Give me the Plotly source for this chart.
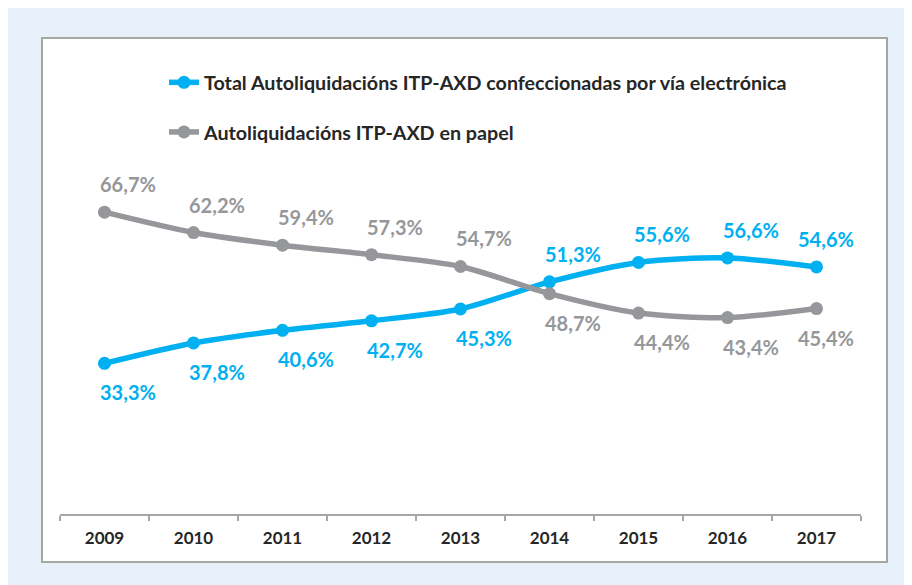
import plotly.graph_objects as go

years = ["2009", "2010", "2011", "2012", "2013", "2014", "2015", "2016", "2017"]
electronic = [33.3, 37.8, 40.6, 42.7, 45.3, 51.3, 55.6, 56.6, 54.6]
paper = [66.7, 62.2, 59.4, 57.3, 54.7, 48.7, 44.4, 43.4, 45.4]
name_electronic = "Total Autoliquidacións ITP-AXD confeccionadas por vía electrónica"
name_paper = "Autoliquidacións ITP-AXD en papel"
# label placement: True = above the point
electronic_above = [False, False, False, False, False, True, True, True, True]
paper_above = [True, True, True, True, True, False, False, False, False]

BLUE = "#00b0f0"
GRAY = "#96979a"
FONT = "Lato"

fig = go.Figure()
fig.add_trace(go.Scatter(
    x=years, y=electronic, name=name_electronic, legendgroup="a",
    mode="lines+markers", line=dict(color=BLUE, width=5.5, shape="spline", smoothing=0.8),
    marker=dict(color=BLUE, size=13), hoverinfo="skip"))
fig.add_trace(go.Scatter(
    x=years, y=paper, name=name_paper, legendgroup="b",
    mode="lines+markers", line=dict(color=GRAY, width=5.5, shape="spline", smoothing=0.8),
    marker=dict(color=GRAY, size=13), hoverinfo="skip"))

annotations = []
for vals, above, col in ((electronic, electronic_above, BLUE), (paper, paper_above, GRAY)):
    for i, (v, a) in enumerate(zip(vals, above)):
        annotations.append(dict(
            x=i, y=v, xref="x", yref="y", showarrow=False,
            text="<b>" + f"{v:.1f}%".replace(".", ",") + "</b>",
            font=dict(family=FONT, size=20, color=col),
            xshift=23 if i < len(vals) - 1 else 9,
            yshift=28 if a else -29))

# page is offset by the default 8px body margin
OFF = 8
L, R, T, B = 60 - OFF, 59, 152 - OFF, 79
W, H = 912, 585
pw, ph = W - L - R, H - T - B
def px(x):
    return (x - OFF - L) / pw
def py(y):
    return (H - B - (y - OFF)) / ph

shapes = [
    dict(type="rect", xref="paper", yref="paper", x0=px(42), x1=px(887), y0=py(562), y1=py(38),
         fillcolor="white", line=dict(color="#a6a6a6", width=2), layer="below"),
]

fig.update_layout(
    width=W, height=H,
    margin=dict(l=L, r=R, t=T, b=B),
    paper_bgcolor="#e8f0f9", plot_bgcolor="rgba(0,0,0,0)",
    font=dict(family=FONT, color="#262626"),
    showlegend=True,
    legend=dict(x=px(164), y=py(63), xanchor="left", yanchor="top",
                bgcolor="rgba(0,0,0,0)", tracegroupgap=21, itemwidth=30,
                font=dict(family=FONT, size=19.7, color="#262626", weight="bold")),
    annotations=annotations,
    shapes=shapes,
    xaxis=dict(type="category", range=[-0.5, 8.5], showgrid=False, zeroline=False,
               showline=True, linecolor="#a6a6a6", linewidth=2,
               ticks="outside", tickson="boundaries", ticklen=5, tickwidth=2, tickcolor="#a6a6a6",
               tickfont=dict(family=FONT, size=17, color="#262626", weight="bold"),
               ticklabelstandoff=8),
    yaxis=dict(range=[0, 80], visible=False, showgrid=False, zeroline=False),
)

fig.write_html("out.html")
